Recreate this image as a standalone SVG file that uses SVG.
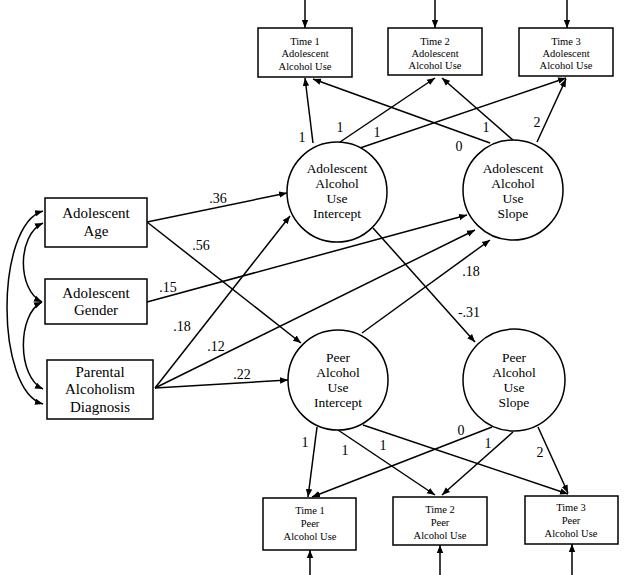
<svg xmlns="http://www.w3.org/2000/svg" width="624" height="575" viewBox="0 0 624 575">
<defs>
<marker id="ah" viewBox="0 0 10 10" refX="10" refY="5" markerWidth="8" markerHeight="8" markerUnits="userSpaceOnUse" orient="auto-start-reverse">
<path d="M0,1 L10,5 L0,9 Z" fill="#000"/>
</marker>
</defs>
<style>
.b { fill: #fff; stroke: #000; stroke-width: 1.5; }
.c path, .c line { stroke: #000; stroke-width: 1.5; fill: none; marker-end: url(#ah); }
.c path.d { marker-start: url(#ah); }
text { font-family: 'Liberation Serif', 'DejaVu Serif', serif; fill: #000; text-anchor: middle; }
.s { font-size: 10.5px; }
.m { font-size: 15px; }
.n { font-size: 13.5px; }
.l { font-size: 14px; }
</style>

<g class="c" id="connectors">
<line x1="305" y1="0" x2="305" y2="28"/>
<line x1="435" y1="0" x2="435" y2="28"/>
<line x1="567" y1="0" x2="567" y2="28"/>
<line x1="310" y1="575" x2="310" y2="550"/>
<line x1="440" y1="575" x2="440" y2="545"/>
<line x1="572" y1="575" x2="572" y2="544"/>
<path class="d" d="M43,211 C-5,225 -5,390 43,404"/>
<path class="d" d="M43,223 C17,235 17,290 42,302"/>
<path class="d" d="M42,302 C17,314 17,377 43,389"/>
<line x1="147" y1="222" x2="287" y2="193"/>
<line x1="147" y1="222" x2="301" y2="343"/>
<line x1="147" y1="302" x2="467" y2="215"/>
<line x1="155" y1="388" x2="290" y2="216"/>
<line x1="155" y1="388" x2="475" y2="230"/>
<line x1="155" y1="388" x2="288" y2="380"/>
<line x1="362" y1="333" x2="490" y2="240"/>
<line x1="373" y1="228" x2="475" y2="342"/>
<line x1="313" y1="143" x2="305" y2="78"/>
<line x1="340" y1="142" x2="435" y2="78"/>
<line x1="360" y1="148" x2="566" y2="78"/>
<line x1="490" y1="143" x2="313" y2="79"/>
<line x1="513" y1="140" x2="442" y2="78"/>
<line x1="537" y1="142" x2="566" y2="79"/>
<line x1="317" y1="427" x2="308" y2="497"/>
<line x1="338" y1="430" x2="435" y2="495"/>
<line x1="363" y1="425" x2="568" y2="494"/>
<line x1="492" y1="427" x2="312" y2="497"/>
<line x1="513" y1="432" x2="442" y2="495"/>
<line x1="538" y1="427" x2="568" y2="493"/>
</g>

<g id="labels" class="l">
<text x="218" y="203">.36</text>
<text x="201" y="250">.56</text>
<text x="168" y="292">.15</text>
<text x="182" y="331">.18</text>
<text x="216" y="351">.12</text>
<text x="242" y="379">.22</text>
<text x="471" y="276">.18</text>
<text x="469" y="317">-.31</text>
<text x="302" y="142">1</text>
<text x="340" y="132">1</text>
<text x="377" y="137">1</text>
<text x="459" y="151">0</text>
<text x="486" y="132">1</text>
<text x="537" y="127">2</text>
<text x="305" y="447">1</text>
<text x="345" y="455">1</text>
<text x="383" y="450">1</text>
<text x="461" y="435">0</text>
<text x="488" y="448">1</text>
<text x="540" y="457">2</text>
</g>

<g id="t1a"><rect class="b" x="258" y="28" width="94" height="49"/><text class="s" x="305" y="45">Time 1</text><text class="s" x="305" y="57">Adolescent</text><text class="s" x="305" y="70">Alcohol Use</text></g>
<g id="t2a"><rect class="b" x="388" y="28" width="94" height="47"/><text class="s" x="435" y="45">Time 2</text><text class="s" x="435" y="57">Adolescent</text><text class="s" x="435" y="69">Alcohol Use</text></g>
<g id="t3a"><rect class="b" x="519" y="28" width="94" height="48"/><text class="s" x="566" y="45">Time 3</text><text class="s" x="566" y="57">Adolescent</text><text class="s" x="566" y="69">Alcohol Use</text></g>

<g id="age"><rect class="b" x="45" y="198" width="102" height="49"/><text class="m" x="96" y="218">Adolescent</text><text class="m" x="96" y="236">Age</text></g>
<g id="gender"><rect class="b" x="45" y="279" width="102" height="45"/><text class="m" x="96" y="298">Adolescent</text><text class="m" x="96" y="315">Gender</text></g>
<g id="parental"><rect class="b" x="47" y="360" width="106" height="59"/><text class="m" x="100" y="377">Parental</text><text class="m" x="100" y="394">Alcoholism</text><text class="m" x="100" y="412">Diagnosis</text></g>

<g id="aint"><circle class="b" cx="337" cy="192" r="50"/><text class="n" x="337" y="173">Adolescent</text><text class="n" x="337" y="188">Alcohol</text><text class="n" x="337" y="203">Use</text><text class="n" x="337" y="218">Intercept</text></g>
<g id="aslope"><circle class="b" cx="513" cy="190" r="50"/><text class="n" x="513" y="173">Adolescent</text><text class="n" x="513" y="188">Alcohol</text><text class="n" x="513" y="203">Use</text><text class="n" x="513" y="218">Slope</text></g>
<g id="pint"><circle class="b" cx="338" cy="380" r="50"/><text class="n" x="338" y="362">Peer</text><text class="n" x="338" y="377">Alcohol</text><text class="n" x="338" y="392">Use</text><text class="n" x="338" y="407">Intercept</text></g>
<g id="pslope"><circle class="b" cx="514" cy="380" r="51"/><text class="n" x="514" y="362">Peer</text><text class="n" x="514" y="377">Alcohol</text><text class="n" x="514" y="392">Use</text><text class="n" x="514" y="407">Slope</text></g>

<g id="t1p"><rect class="b" x="263" y="498" width="93" height="52"/><text class="s" x="310" y="514">Time 1</text><text class="s" x="310" y="527">Peer</text><text class="s" x="310" y="540">Alcohol Use</text></g>
<g id="t2p"><rect class="b" x="393" y="497" width="94" height="48"/><text class="s" x="440" y="513">Time 2</text><text class="s" x="440" y="526">Peer</text><text class="s" x="440" y="539">Alcohol Use</text></g>
<g id="t3p"><rect class="b" x="525" y="496" width="93" height="48"/><text class="s" x="571" y="511">Time 3</text><text class="s" x="571" y="524">Peer</text><text class="s" x="571" y="537">Alcohol Use</text></g>
</svg>
